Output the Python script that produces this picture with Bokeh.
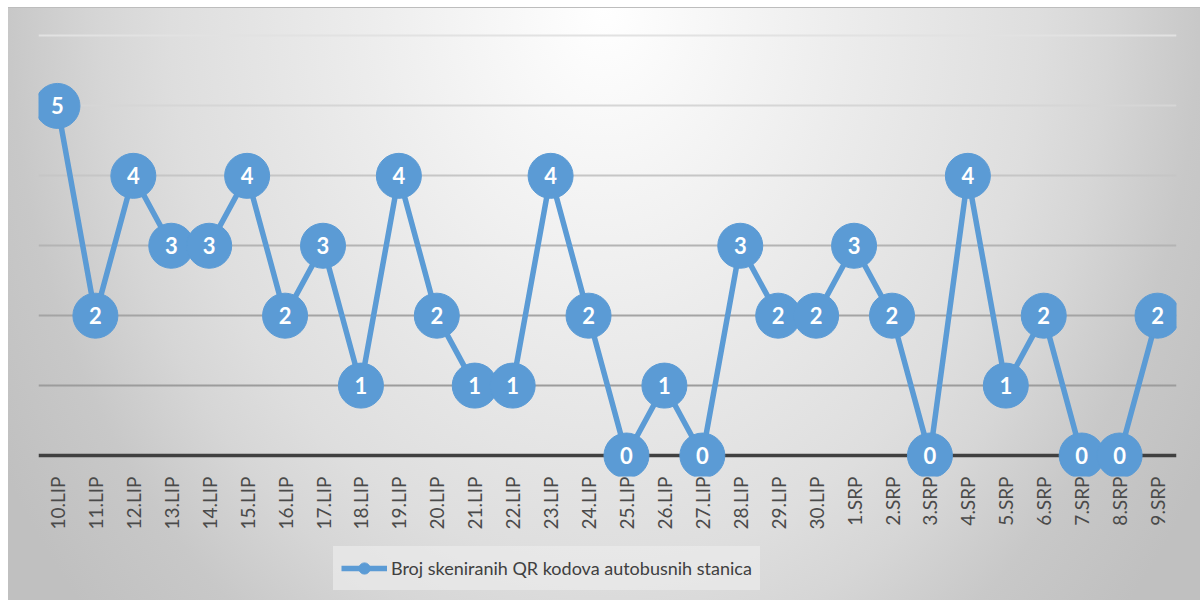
import math
from bokeh.plotting import figure
from bokeh.layouts import column
from bokeh.models import (ColumnDataSource, FactorRange, Range1d, Grid, FixedTicker,
                          Legend, LegendItem)
from bokeh.core.properties import value
from bokeh.embed import file_html
from bokeh.resources import INLINE

days = ["10.LIP", "11.LIP", "12.LIP", "13.LIP", "14.LIP", "15.LIP", "16.LIP",
        "17.LIP", "18.LIP", "19.LIP", "20.LIP", "21.LIP", "22.LIP", "23.LIP",
        "24.LIP", "25.LIP", "26.LIP", "27.LIP", "28.LIP", "29.LIP", "30.LIP",
        "1.SRP", "2.SRP", "3.SRP", "4.SRP", "5.SRP", "6.SRP", "7.SRP", "8.SRP", "9.SRP"]
counts = [5, 2, 4, 3, 3, 4, 2, 3, 1, 4, 2, 1, 1, 4, 2, 0, 1, 0, 3, 2, 2,
          3, 2, 0, 4, 1, 2, 0, 0, 2]
series_name = "Broj skeniranih QR kodova autobusnih stanica"
grid_levels = [0, 1, 2, 3, 4, 5, 6]

src = ColumnDataSource(dict(day=days, n=counts, lbl=[str(c) for c in counts]))

BLUE = "#5B9BD5"
FONT = "Lato"
W, H_MAIN, H_LEG = 1200, 546, 54

GRAD = ("radial-gradient(ellipse 700px 900px at 50% 0%, #ffffff 0%, #ececec 35%, "
        "#dedede 62%, #d6d6d6 72%, #c8c8c8 85%, #c0c0c0 100%)")


def bg(offset_y):
    return {"background": (f"linear-gradient(#bdbdbd, #bdbdbd) 8px {7 - offset_y}px / 1192px 1px no-repeat, "
                           f"{GRAD} 8px {7 - offset_y}px / 1192px 595px no-repeat, #ffffff")}


p = figure(width=W, height=H_MAIN, x_range=FactorRange(*days, range_padding=0),
           y_range=Range1d(-0.3, 6.05), output_backend="svg", toolbar_location=None,
           min_border_left=38, min_border_right=24, min_border_top=32,
           min_border_bottom=H_MAIN - 476)
p.styles = bg(0)
p.background_fill_alpha = 0
p.border_fill_alpha = 0
p.outline_line_color = None

p.yaxis.visible = False
p.xgrid.visible = False
p.ygrid.visible = False

grid_colors = ["#404040", "#9c9c9c", "#a4a4a4", "#b4b4b4", "#c6c6c6", "#d6d6d6", "#e2e2e2"]
grid_widths = [3.5, 2, 2, 2, 2, 2, 2]
for lvl, col, w in zip(grid_levels, grid_colors, grid_widths):
    g = Grid(dimension=1, ticker=FixedTicker(ticks=[lvl]), grid_line_color=col,
             grid_line_width=w)
    p.add_layout(g)

ax = p.xaxis[0]
ax.axis_line_color = None
ax.major_tick_line_color = None
ax.major_tick_out = 0
ax.major_label_standoff = 0
ax.major_label_orientation = math.pi / 2
ax.major_label_text_font = FONT
ax.major_label_text_font_size = "19px"
ax.major_label_text_color = "#4a4a4a"

p.line("day", "n", source=src, line_color=BLUE, line_width=5.5)
p.scatter("day", "n", source=src, size=45, fill_color=BLUE, line_color=BLUE)
p.text("day", "n", text="lbl", source=src, text_align="center", text_baseline="middle",
       text_color="white", text_font=value(FONT), text_font_style="bold",
       text_font_size="22px")

# legend strip below the chart (its proxy glyphs lie outside its visible range)
p2 = figure(width=W, height=H_LEG, title=None, output_backend="svg", toolbar_location=None,
            x_range=FactorRange(*days), y_range=Range1d(100, 101),
            x_axis_location=None, y_axis_location=None,
            min_border_left=0, min_border_right=0, min_border_top=0, min_border_bottom=0)
p2.styles = bg(H_MAIN)
p2.background_fill_alpha = 0
p2.border_fill_alpha = 0
p2.outline_line_color = None
p2.xgrid.visible = False
p2.ygrid.visible = False
lg_line = p2.line("day", "n", source=src, line_color=BLUE, line_width=5.5)
lg_mark = p2.scatter("day", "n", source=src, size=45, fill_color=BLUE, line_color=BLUE)

legend = Legend(items=[LegendItem(label=series_name, renderers=[lg_line, lg_mark])],
                location=(295, 10), orientation="horizontal",
                glyph_width=46, glyph_height=28, label_standoff=4,
                padding=8, margin=0, spacing=0,
                label_text_font=FONT, label_text_font_size="18px",
                label_text_color="#404040",
                background_fill_color="#ebebeb", background_fill_alpha=0.7,
                border_line_color="#ebebeb", border_line_alpha=0.0)
p2.add_layout(legend, "center")

layout = column(p, p2, spacing=0)
open("out.html", "w").write(file_html(layout, INLINE))
